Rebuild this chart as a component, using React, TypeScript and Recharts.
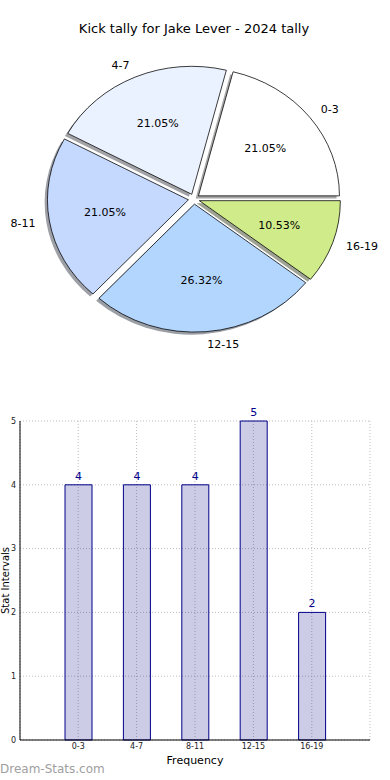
import {
  PieChart,
  Pie,
  Cell,
  BarChart,
  Bar,
  XAxis,
  YAxis,
  CartesianGrid,
  LabelList,
  Label,
} from "recharts";

const categories = ["0-3", "4-7", "8-11", "12-15", "16-19"];
const kicks = [4, 4, 4, 5, 2];
const sliceColors = ["#ffffff", "#eaf1ff", "#c5d9ff", "#b3d6ff", "#cfeb8a"];
const yTicks = [0, 1, 2, 3, 4, 5];

const FONT = "'DejaVu Sans', sans-serif";

// pie geometry (matplotlib pie on a non-square axes -> slightly squashed)
const CX = 194;
const CY = 199;
const R = 141;
const SQUASH = 128 / 141;
const EXPLODE = 0.04;
const SHADOW = 2.8;

const pieData = categories.map((name, i) => ({ name, value: kicks[i] }));
const barData = categories.map((name, i) => ({ name, value: kicks[i] }));

const total = kicks.reduce((a, b) => a + b, 0);
const midAngles = (() => {
  let acc = 0;
  return kicks.map((v) => {
    const mid = acc + (v / total) * 180;
    acc += (v / total) * 360;
    return mid;
  });
})();

const centers = midAngles.map((a) => {
  const rad = (a * Math.PI) / 180;
  return { x: CX + EXPLODE * R * Math.cos(rad), y: CY - EXPLODE * R * Math.sin(rad) };
});

function shade(hex: string) {
  const n = parseInt(hex.slice(1), 16);
  const r = Math.round(((n >> 16) & 255) * 0.3);
  const g = Math.round(((n >> 8) & 255) * 0.3);
  const b = Math.round((n & 255) * 0.3);
  return `rgb(${r},${g},${b})`;
}

const sliceLabel = (i: number) => (p: any) => {
  if (p.index !== i) return <g />;
  const rad = (p.midAngle * Math.PI) / 180;
  const cos = Math.cos(rad);
  const sin = Math.sin(rad);
  const cx = p.cx;
  const cy = CY + (p.cy - CY) * SQUASH;
  const nx = cx + 1.1 * R * cos;
  const ny = cy - 1.1 * R * SQUASH * sin;
  const px = cx + 0.6 * R * cos;
  const py = cy - 0.6 * R * SQUASH * sin;
  return (
    <g>
      <text
        x={nx}
        y={ny}
        textAnchor={cos > 0 ? "start" : "end"}
        dominantBaseline="central"
        fontSize={11}
        fill="#000"
      >
        {p.name}
      </text>
      <text x={px} y={py} textAnchor="middle" dominantBaseline="central" fontSize={11} fill="#000">
        {(p.percent * 100).toFixed(2)}%
      </text>
    </g>
  );
};

export default function App() {
  return (
    <div
      style={{
        position: "absolute",
        left: 0,
        top: 0,
        width: 390,
        height: 780,
        background: "#fff",
        fontFamily: FONT,
      }}
    >
      <style>{`.pie-box path.recharts-sector{transform:scale(1,${SQUASH});transform-origin:${CX}px ${CY}px}`}</style>
      <div
        style={{
          position: "absolute",
          top: 21,
          left: 0,
          width: 388,
          textAlign: "center",
          fontSize: 13,
          color: "#000",
        }}
      >
        Kick tally for Jake Lever - 2024 tally
      </div>

      <div className="pie-box" style={{ position: "absolute", left: 0, top: 0 }}>
        <PieChart width={390} height={370} margin={{ top: 0, right: 0, bottom: 0, left: 0 }}>
          {categories.map((_, i) => (
            <Pie
              key={`shadow-${i}`}
              data={pieData}
              dataKey="value"
              nameKey="name"
              cx={centers[i].x - SHADOW}
              cy={centers[i].y + SHADOW}
              outerRadius={R}
              startAngle={0}
              endAngle={360}
              stroke="none"
              labelLine={false}
              isAnimationActive={false}
            >
              {pieData.map((_, j) => (
                <Cell
                  key={j}
                  fill={j === i ? shade(sliceColors[j]) : "none"}
                  fillOpacity={0.5}
                  stroke="none"
                />
              ))}
            </Pie>
          ))}
          {categories.map((_, i) => (
            <Pie
              key={`wedge-${i}`}
              data={pieData}
              dataKey="value"
              nameKey="name"
              cx={centers[i].x}
              cy={centers[i].y}
              outerRadius={R}
              startAngle={0}
              endAngle={360}
              labelLine={false}
              label={sliceLabel(i)}
              isAnimationActive={false}
            >
              {pieData.map((_, j) => (
                <Cell
                  key={j}
                  fill={j === i ? sliceColors[j] : "none"}
                  stroke={j === i ? "#000" : "none"}
                  strokeWidth={0.8}
                />
              ))}
            </Pie>
          ))}
        </PieChart>
      </div>

      <div style={{ position: "absolute", left: 0, top: 370 }}>
        <BarChart
          width={390}
          height={410}
          data={barData}
          margin={{ top: 51, right: 20, bottom: 20, left: 5 }}
        >
          <CartesianGrid stroke="#bdbdbd" strokeDasharray="1 2" />
          <XAxis
            dataKey="name"
            padding={{ left: 29, right: 29 }}
            height={20}
            interval={0}
            tickLine={false}
            tickSize={0}
            tickMargin={3}
            axisLine={{ stroke: "#000" }}
            tick={{ fontSize: 8, fill: "#222" }}
          >
            <Label
              content={(p: any) => (
                <text
                  x={p.viewBox.x + p.viewBox.width / 2}
                  y={p.viewBox.y + 20}
                  textAnchor="middle"
                  dominantBaseline="central"
                  fontSize={11}
                  fill="#000"
                >
                  Frequency
                </text>
              )}
            />
          </XAxis>
          <XAxis
            xAxisId="top"
            orientation="top"
            dataKey="name"
            height={0}
            tick={false}
            tickLine={false}
            axisLine={{ stroke: "#000" }}
          />
          <YAxis
            domain={[0, 5]}
            ticks={yTicks}
            width={15}
            tickLine={false}
            tickSize={0}
            tickMargin={4}
            axisLine={{ stroke: "#000" }}
            tick={{ fontSize: 8, fill: "#222" }}
          >
            <Label
              content={(p: any) => (
                <text
                  x={5}
                  y={p.viewBox.y + p.viewBox.height / 2}
                  transform={`rotate(-90 5 ${p.viewBox.y + p.viewBox.height / 2})`}
                  textAnchor="middle"
                  dominantBaseline="central"
                  fontSize={10}
                  fill="#000"
                >
                  Stat Intervals
                </text>
              )}
            />
          </YAxis>
          <YAxis
            yAxisId="right"
            orientation="right"
            domain={[0, 5]}
            width={0}
            tick={false}
            tickLine={false}
            axisLine={{ stroke: "#000" }}
          />
          <Bar
            dataKey="value"
            barSize={27}
            fill="#000080"
            fillOpacity={0.2}
            stroke="#00008b"
            strokeWidth={1}
            isAnimationActive={false}
          >
            <LabelList dataKey="value" position="top" offset={5} fill="#00008b" fontSize={11} />
          </Bar>
        </BarChart>
      </div>

      <div
        style={{
          position: "absolute",
          left: 0,
          top: 762,
          fontSize: 12,
          color: "#a0a0a0",
        }}
      >
        Dream-Stats.com
      </div>
    </div>
  );
}
